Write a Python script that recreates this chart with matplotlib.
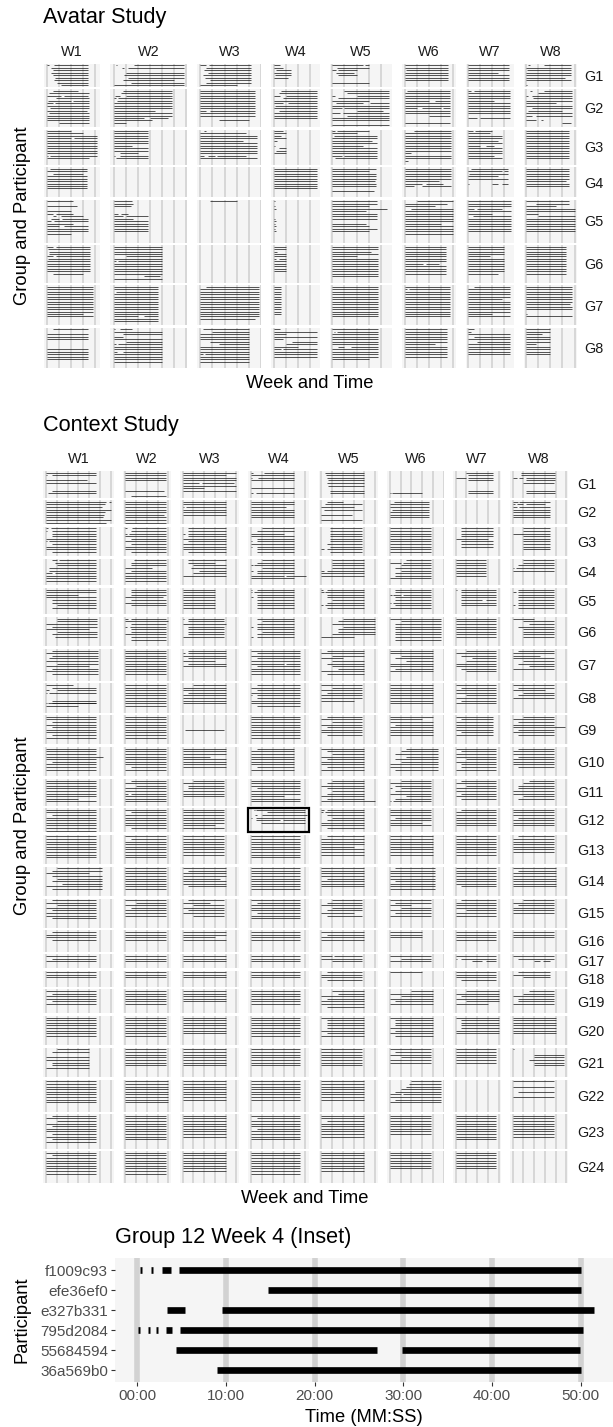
import matplotlib
matplotlib.use("Agg")
import matplotlib.pyplot as plt
from matplotlib.patches import Rectangle

plt.rcParams["font.family"] = ["Liberation Sans", "DejaVu Sans"]

WEEKS = ["W1", "W2", "W3", "W4", "W5", "W6", "W7", "W8"]

# Session logs, one string per group and week.
# "E:" gives the default end minute of the week's session, then one token per
# participant: "." = absent, "a" = online from a to E, "a-b" = from a to b,
# several stretches joined with ",".
AVATAR_GROUPS = ["G1", "G2", "G3", "G4", "G5", "G6", "G7", "G8"]
AVATAR_SIZES = [9, 15, 14, 12, 17, 15, 16, 16]
AVATAR_SESSIONS = [
    ["34:0-2,6 4 5 4 5 7 6 9 12", "58:2-3,17 7-9,12 . 10 9 12 8-50 14 0",
     "42:0-5,7 5 3 6 2 4 8 5 0-30", "14:0-5 0-8 2 0 1 0-12 . . .",
     "30:0-25,27 4 0-3,5-20 3-18 5-20 . . 0 .", "36:0 0 1 0 0 0 0 . .",
     "34:0 0 0 0-25 0 0 0 . .", "37:2-3,15 0 1 0 0 0-32 0 . 0-1"],
    ["35:5-26 2 0-12,14-34 8 1-20,22 0-5,7 0 3 0-33 2 0 0 0 10 .",
     "48:8 6 1-5,10 0-2,4 3 0 0 0 0-34 0 0 0-25,30-45 0-32 0-10 .",
     "45:0 0 0 0 0 0 0 0 0-5,8 0 0 . 15-40 . .",
     "36:6 4 0-5,10 8 0 0-8,12 1 0 4 0 0 0 . . .",
     "47:10 12 0-2,20 5 0-30 3-25,31 0 0-8,10 20-42 0-6,9 12 0 0 . 0",
     "37:2 0 0 0 0-20,25 0 0 0-10,14-30,32 0 0 20 . . 0 .",
     "35:0-3,5 0 0 0 0-22 0 0 0 0 0 . 0-8,10 . . .",
     "38:3-5,15 10 0-2,5 6 0 0-25 0 5 2-30 0 0-5,8 . 0-8,12-14 30-37 ."],
    ["42:0-20 0-30 0 0-20,23 0 0 0 0 0 0 0-1,3 0-35 . .",
     "28:0 0 0 0 0 0 0-15 0 0 5-20 0-1,5 2-28 . .",
     "47:3-5 0-38 0 0 0-35 0 0 0 0 0 0-3,6-12,14-38 0 . .",
     "10:0-8 0 0-6 0 0-3 . 0-1 4 2 0 . . . .",
     "37:0-2,4-30 0-20 1 0 0-33 0 0-25 0 0 0 0-8,10 2 . .",
     "38:8 0 0 0 0 0 0 0 0 0-5 0 0 0-3 .",
     "28:0-4,6-20 0-18 0 0 0-25 0 0-10,15-22 0 0 0 0-22 0 . .",
     "35:0 0 0 0 0 0 0 0 0 0 0 0 . ."],
    ["33:3 0 5-30 0 0 0 0 0 0 . . .", "0:", "0:",
     "36:0 0 0 0 0 0 0 0 0 . . .",
     "36:0 0-30 0 0 0 0-35 0 0 . 0-34 .",
     "38:0 0 0 0 0 0-28 0-14,18-32 0-8,14 . . .",
     "33:3 0-28,30 1 0-25 0 . 0-1,20-25,28 . . . . .",
     "35:0 0 0 0 0 0-33 0 0 . . . ."],
    ["34:0-22 . 0-25 . 0-20 0-5,8-22 5-8,12-30 4-10,13 0-4,6 0-22 0-10,14 0 0 0-20 . . .",
     "28:0-15 0-16 0-14 . . 0-4,6-12 0-8,10 0-16 0 0 0 0 0 . . . .",
     "28:8-30 . . . . . . . . . . . . . . . .",
     "6:0-1 . 0-1 0-2 . . . 0-1 0-2 0-1 0-2 0-1 0-2 . . . .",
     "37:0 0 0-30 0-45 0-28 0 0 0 . 0-28 0-30 0 0-30 . . . .",
     "40:10 0-35 0-25 5 0 0 0 0 0 0-30 0 0 0 0 . . .",
     "36:0 0 0 0-5,8-28 0 0-20 4 0 0 0 0 0 0 . . . .",
     "40:0-35 8-35 0-25 0 0 0-10 10 0-40 0 0 0 0 0 . . . ."],
    ["36:0-5,8 1 2 2 0-5,8 1 0 0 0 0 0 5-30 . . .",
     "40:0 0 0 0 10 0 0-2,4 0 0 0 0 0 25-38 0 .",
     "0:",
     "10:0 0 0-3 0 0 0-2,4 0 0 0 0 0 . . .",
     "38:0 0 0-32 0 0-20 0 0 0 0 0 0 0 0 . .",
     "34:0 0 0 0 0 0 0 0-15,18-28 0 0 0 0 . . .",
     "30:0 0 0 0 0-18 0 0 0 0 0 0 0-25 . . .",
     "33:0 0 0 0 0 0 0 0 0 0 0 0 . . ."],
    ["38:0 0 0 0 0 0 0 0 0 0 0 0-30 0 . . .",
     "37:0 0 2 0 0 0 0 0 0 0 0 0 0-20,25 0 0 .",
     "48:5 0 0 0 0 0 0 0 0 0 0 0 0 0-45 . .",
     "6:0 0 0 0 0 0 0 0 0 0 0 0 . . . .",
     "38:0 0 0 0 0 0 0 0 0 0 0 0 0 . . .",
     "37:0 0-2,4 0 0 0 0 0 0 0 0 0 0 0 . . .",
     "35:5 0 0 0 0 0-28 0 0 0 0 0 0-20 0 . . .",
     "38:0 0 0 0 0 0 0 0-36 0 0 . 0-1 0 . . ."],
    ["34:5 . 0 0 0 . . . 0 0 0 0 0 . . .",
     "40:0-1,5-15 0 8 0-8 0 10 0-2,4 0 0 0-3,8 0 0 0 0 . .",
     "40:2 10 0 0 0 8 15 0 0 0 0-2,4 0 0 0 . .",
     "36:0-5 0 0-10 0 0-8 15 10 0-20 0-6,8 0 0 0 . . .",
     "38:0 1-2,4 0 0 0 0 0 5-10,15 0 0 0 0 0-30 . . .",
     "35:0 0 0 0 0 0 0-25 0 0 0 0 0 . . . .",
     "35:0-5 0-3 0 5 0 8 0 0 0 0 0 . . . . .",
     "20:0 0 0-13 0 0 0 0-8 0 0 0 0 . . . ."],
]

CONTEXT_GROUPS = ["G%d" % i for i in range(1, 25)]
CONTEXT_SIZES = [10, 9, 11, 10, 10, 11, 12, 11, 11, 11, 10, 9,
                 11, 11, 11, 8, 5, 6, 9, 11, 11, 12, 13, 12]
CONTEXT_SESSIONS = [
    ["46:0 0-1,5 . 0-38 0 . . 5 2 .", "38:0 0 0 0 . . . 0-36 . 5",
     "50:0 0-40 0 0 0-15,18-48 0 0-20 0 . .", "40:0-2,12 0 0-1,6 0 . . 0 . 0-2,4 .",
     "40:3 4 5 6 5 6 . 8 8 .", "30:. . . . . . . . 0-1,2 .",
     "35:10 12 0-10,12 12 . . . 12 12 .", "39:8 8 0-4,6-10,12 12 10-38 . . 12 12 ."],
    ["60:0-56,58 0-55 0-52 0 0-55 0-54 0-53 0 0-56", "38:0 0 0 0 0 0-36 0 0 0",
     "40:0 0 0-1,3 0 0 0 . . .", "40:0 0 0-32 0 0 0 0 . .",
     "38:5-20 3 0-30 2 . 0-28 . 0 .", "36:4 0 0 2 0 0 0 . .",
     "0:", "35:0-5,6 0-2,4-10,12-30 0-4,6 0 0 0 0 . ."],
    ["46:0-2,4 0-1,5 5 5 0 0-1,3 5 0 0 5 .", "38:0-1,6 5 0-1,3 0 5 0 5 0 0 5 .",
     "40:5 5 0-2,5 5 0 5 0 0 0 5 .", "40:10 5 0-30 0 5 0-1,5 0 0-1,5 5 5 .",
     "38:8 8 8 8 8 8 5 8 0-2,5 8 .", "38:0 0 0 0 0 0 0 0 0 0 .",
     "35:5 5 5 5 0-30 5 5 5 . . .", "35:10 10 0 10 10 10 10 10 10 . ."],
    ["46:5-10,12 8 10 3 3 0-5,8 0 0 0 .", "38:8 5 5 0-25 5 0 0 0 0 .",
     "40:5 5-30 10 8 15 10 0-40 . . .", "40:10 5 0-2,3 10 0-2,5 5 0-30,32-51 0 . .",
     "40:10 10 10 10 0-2,5 0-40 0 . . .", "38:15 0-10,12 10 5 10 5 5 0 . .",
     "28:0 0 0 0 0 0 0 . . .", "38:10 10 5 0-1,3 0-38 . . . . ."],
    ["46:0 0 0-30 0 5 5 10 5 . .", "38:5 5 5 0-35 5 0 5 . . .",
     "30:0 0 0 0 0 0 0 0 . .", "40:0-1,5 0-1,3 5 0-2,5 5 5 5 5 . .",
     "40:0-1,5 0-2,3 5 5 10 5 0-1,3 5 . .", "38:5 5 0-2,3-10,12 5 5 0-1,3 5 0 . .",
     "38:0-1,5 5 5 5 5-25,28 5 5 . . .", "38:5 0-3,5 5 5 5 5 0-2,5 5 . ."],
    ["47:10 10 0 5 0-40 10 5 8 . . .", "38:0-2,5 0-40 5 0-1,4 5 5 0 5 5 . .",
     "38:0-1,5 5 0-40 5 5 5 5 0 . . .", "40:5 10 5 0-2,5 5 10 5 0-2,5 . . .",
     "50:20 15 10 20 15 15 10 0-30 . . .", "48:0 10 5 5 5 5 5 5 5 . .",
     "38:0 0 0 0 0 0 0 0 . . .", "38:0-20 10 15 5 10 10 10 10 . . ."],
    ["48:5 0 5 3 0 10 0-40 5 0 5 . .", "38:0 0 0 0 0 0 0 0 0 0 . .",
     "40:5 0-2,5 0 5 0-30 5 0 . . . . .", "45:0 5 0 5 0 0-30,32 5 0 0 0 . .",
     "40:5 0 10 0-20 10 5 10 15 0 5 . .", "40:0 0 10 5 15 0 0 5 0 . . .",
     "38:10 0 5 15 10 0 0 5 10 . . .", "38:5 0 0-25 0 10 5 15 0 . . . ."],
    ["46:0-25 5 0-3,10 0-1,3 . . 5 0-1,2,5 0-30 . .", "38:0 0 0 0 0 0 0 0 0 . .",
     "40:10 0 0 5 0 0 0 0 . . .", "45:5 0 5 0 0-1,5 5 0 0 5 . .",
     "38:0 10 0 5 0 0 0-30 . . . .", "40:0 0 0 0 0 0 0 0 . . .",
     "38:0 5 0 0 10 0 5 0 . . .", "38:0 5 0-30 10 5 0 . . . . ."],
    ["46:0 0 5 0 5 0 0 5 0 . .", "38:0 0 0 0 0 0 0 0 0 . .",
     "0:. . . . . 2-38 . . . . .", "45:0 0 0 0 0 0 0 0 0 . .",
     "38:5 0 10 0 5 0 0 5 . . .", "40:0 0-30 0 5 0 0 0 0 . . .",
     "35:0 5 0 0 0 0 5 0 . . .", "38:10 0 5 0 0-49 5 0 5 . . ."],
    ["46:0 0 0 0-53 0 5 0 0 0 . .", "38:0 0 0 0 0 0 0 5 0 . .",
     "40:0 0 0 0-25 0 0 0 0 . . .", "40:5 0 0 0 0 0 0 5 0 . .",
     "40:0 5 10 0 5 0 0 5 0 . .", "45:15 10 5 15 5 10 0 0 5 . .",
     "38:0 5 0 0 10 0 5 5 0 . .", "38:5 0 0 5 0 0 0 5 . . ."],
    ["46:0 0 0 0 0 0 0 0-30 0 .", "38:5 0 10 0 0 0-2,5 0 0 0 .",
     "38:10 0 5 5 0 0 0 . . .", "45:0 0 0 5 0 0 0-30 0 0 .",
     "40:10 5 0 5 10 5 0 5 0-50 .", "38:10 0 5 0-2,10 5 0 15 5 0-1,3 .",
     "38:5 0 10 0 0 5 0 5 . .", "38:15 10 5 5 0 0 10 5 . ."],
    ["46:0 0 5 0 0 0 0 0 0", "38:0 5 0 0 0 0 0 5 .",
     "38:0 0 0 0 0 0 0-30 0 .", None,
     "40:0-2,5 0-1,3 5 10 5 0 0 5 .", "38:0 0 0 5 0 0-30 0 .",
     "38:5 0 0 0 0 0 0 . .", "38:0 0 0 5 0 0 0 . ."],
    ["46:0 0 0 0 0 0 0 0 0 . .", "38:0 5 0 0 0 0 0 0 0 . .",
     "38:0 0 0 0 0 0 0 0 . . .", "45:0 0 0 0 0 0 0 0 0 . .",
     "40:5 0 0 0 0-30 0 0 0 . . .", "40:0 0 0 0 0 0 0 0 . . .",
     "38:0 0 0 0 0 0 0 0 . . .", "38:5 0 0 0 0 0 0 . . . ."],
    ["52:10 5 0-40 5 10 5 15 0 5 . .", "38:0 0 0 0 0 0 0 0 0 . .",
     "40:0 5 0 0 0-35 0 0 5 . . .", "45:0 0 0 0 0 0 0 0 0 . .",
     "40:0 0 0 0 5 0 0 0 . . .", "42:5 0 0 0 0 5 0 0 0 . .",
     "38:0 0 0 0 0 0 0 5 . . .", "40:0 5 0 0 0 0 0 0 . . ."],
    ["46:5 0 10 0 5 0 0 5 . . .", "38:0 10 0 5 0 0 0 . . . .",
     "38:5 0-25 10 0 5 0 10 . . . .", "45:0 5 0 0 0 5 0 0 . . .",
     "38:10 5 0 10 5 0-30 5 . . . .", "38:0 5 0-20 10 0 5 0 . . . .",
     "38:5 0 0 0 10 0 0 . . . .", "38:10 0 5 0 0 0 . . . . ."],
    ["46:5 0 0 5 . . . .", "38:0 0 0 0 . . . .", "40:0 0 0-30 0 . . . .",
     "45:0 0 0 0 . . . .", "40:0 5 0 0 . . . .", "30:0 0 0 . . . . .",
     "38:0 0 0 0 . . . .", "38:0 0 0 . . . . ."],
    ["46:0 5 0 . .", "38:0 0 0 . .", "40:0 0 0 . .", "45:0 0 0 . .",
     "38:0-10,12 0 10 . .", "38:0 10 0 . .", "38:0 0-1,5 15-25,28 . .",
     "38:0 5 20-25,28-35 . ."],
    ["46:0 0 0 . . .", "38:0 0 0 . . .", "40:0 0 0 . . .", "45:0 0 0 . . .",
     "38:5 0 0 5 . .", "38:0-30 . . . . .", "38:0 0 0 5 . .", "35:5 0 10 . . ."],
    ["46:0 5 0 0 5 0 . . .", "38:0 0 0 0 0 0 . . .", "40:0 0 0 0 0 . . . .",
     "45:0 0 0 0 0 0 . . .", "40:10 15 0 5 0 0 5 . .", "40:20 0 10 0 5 0 . . .",
     "40:10 0 5 0 10 0-30 . . .", "38:15 10 0 5 5 0 . . ."],
    ["46:0 0 0 0 0 0 0 0 . . .", "38:0 0 0 0 0 0 0 0 . . .",
     "40:0 0 0 0 0 0 0 . . . .", "45:0 0 0 0 0 0 0 0 . . .",
     "40:0 5 5 5 5 0 5 0 . . .", "40:0 5 5 5 0 5 0 5 . . .",
     "40:0 5 5 5 5 0 0 . . . .", "40:0 0 0 0 0 0 0 . . . ."],
    ["40:10 5 . 0 0 5 5 0 . . .", "38:0 0 0 0 0 0 0 . . . .",
     "40:0 0 0 0 0 0 0 . . . .", "45:0 0 0 0 0 0 0 . . . .",
     "38:0 0 0 0 0 0 0 . . . .", "38:0 5 0 10 0 0 . . . . .",
     "38:0 0 0 0 0 0 . . . . .", "48:0-1 . 20 20 15 20 20 . . . ."],
    ["46:0 0 0 0 0 0 0 0 0 . . .", "40:0 0 0 0 0 0 0 0 0 . . .",
     "40:0 0 0 0 0 0 0 0 . . . .", "45:0 0 0 0 0 0 0 0 . . . .",
     "40:0 0 0 0 0 0 0 0 . . . .", "48:20 18 15 10 5 0-10,12 0 5 0 . . .",
     "0:", "38:0 . 0 . 5 . 0 . . . . ."],
    ["46:5 0 10 0 5 0 0 5 0 5 0 . .", "38:0 0 0 0 0 0 0 0 0 0 . . .",
     "40:0 0 0 0 0 0 0 0 0 . . . .", "45:0 5 0 0 0 5 0 0 0 0 . . .",
     "40:0 0 5 0 0 0 0 0 0 . . . .", "38:0 0 0 0 0 0 0 0 . . . . .",
     "38:0 0 0 0 0 0 0 0 0 0 . . .", "38:0 0 0 0 0 0 0 0 0 . . . ."],
    ["46:0 5 0 0 0 0 0 0 0 . . .", "38:0 0 0 0 0 0 0 0 0 . . .",
     "40:0 0 0 0 0 0 0 0 . . . .", "45:0 0 0 0 0 0 0 0 0 . . .",
     "40:0 0 0 0 0 0 0 0 . . . .", "38:0 0 0 0 0 0 0 . . . . .",
     "38:0 0 0 0 0 0 0 . . . . .", "0:"],
]

# Group 12, week 4 in detail (minutes)
INSET_PARTICIPANTS = ["f1009c93", "efe36ef0", "e327b331",
                      "795d2084", "55684594", "36a569b0"]
INSET_SESSIONS = [
    [(0.3, 0.6), (1.6, 1.8), (2.8, 3.8), (4.7, 50.0)],
    [(14.8, 50.0)],
    [(3.4, 5.4), (9.6, 51.5)],
    [(0.05, 0.3), (1.2, 1.4), (2.1, 2.3), (3.2, 3.9), (4.8, 50.3)],
    [(4.4, 27.0), (29.8, 49.9)],
    [(9.0, 50.0)],
]
INSET_TICKS = [0, 10, 20, 30, 40, 50]
INSET_GROUP, INSET_WEEK = 11, 3

W, H, DPI = 613, 1427, 100
PANEL_BG = "#f5f5f5"
GRID = "#d2d2d2"
INK = "#111111"
fig = plt.figure(figsize=(W / DPI, H / DPI), dpi=DPI)


def ax_at(x0, y0, x1, y1):
    return fig.add_axes([x0 / W, 1 - y1 / H, (x1 - x0) / W, (y1 - y0) / H])


def text_at(x, y, s, **kw):
    fig.text(x / W, 1 - y / H, s, **kw)


def parse_cell(text):
    segs = []
    if not text:
        return segs
    head, body = text.split(":")
    end = float(head)
    for i, tok in enumerate(body.split()):
        if tok == ".":
            continue
        for part in tok.split(","):
            if "-" in part:
                a, b = part.split("-")
                segs.append((i, float(a), float(b)))
            else:
                segs.append((i, float(part), end))
    return segs


def inset_segments():
    return [(i, a, b) for i, row in enumerate(INSET_SESSIONS) for a, b in row]


def draw_study(groups, sizes, sessions, box, hgap, vgap, glabel_x,
               strip_base, highlight=None):
    left, top, right, bottom = box
    cells = []
    for g in range(len(groups)):
        row = []
        for w in range(len(WEEKS)):
            if highlight == (g, w):
                row.append(inset_segments())
            else:
                row.append(parse_cell(sessions[g][w]))
        cells.append(row)
    lims = []
    for w in range(len(WEEKS)):
        xs = [v for g in range(len(groups)) for s in cells[g][w] for v in s[1:]]
        lo, hi = min(xs), max(xs)
        pad = 0.05 * (hi - lo)
        lims.append((lo - pad, hi + pad))
    spans = [b - a for a, b in lims]
    px_min = (right - left - (len(WEEKS) - 1) * hgap) / sum(spans)
    units = [n + 0.2 for n in sizes]
    px_unit = (bottom - top - (len(groups) - 1) * vgap) / sum(units)

    y = top
    for g, name in enumerate(groups):
        h = units[g] * px_unit
        x = left
        for w in range(len(WEEKS)):
            wpx = spans[w] * px_min
            ax = ax_at(x, y, x + wpx, y + h)
            ax.set_facecolor(PANEL_BG)
            ax.set_xlim(*lims[w])
            ax.set_ylim(sizes[g] - 0.4, -0.6)
            t = 0
            while t <= lims[w][1]:
                if t >= lims[w][0]:
                    ax.axvline(t, color=GRID, lw=1.2, zorder=0)
                t += 10
            segs = [s for s in cells[g][w] if s[0] < sizes[g]]
            if segs:
                ax.hlines([s[0] for s in segs], [s[1] for s in segs],
                          [s[2] for s in segs], color=INK, lw=0.5)
            ax.set_xticks([])
            ax.set_yticks([])
            for sp in ax.spines.values():
                sp.set_visible(False)
            if highlight == (g, w):
                ax.add_patch(Rectangle((0, 0), 1, 1, transform=ax.transAxes,
                                       fill=False, ec="black", lw=1.6,
                                       clip_on=False, zorder=5))
            if g == 0:
                text_at(x + wpx / 2, strip_base, WEEKS[w], ha="center",
                        va="baseline", fontsize=10.4, color="#1a1a1a")
            x += wpx + hgap
        text_at(glabel_x, y + h / 2 + 5.2, name, ha="left", va="baseline",
                fontsize=10.4, color="#1a1a1a")
        y += h + vgap


# Avatar study
text_at(43, 23.5, "Avatar Study", fontsize=15.6, ha="left", va="baseline")
draw_study(AVATAR_GROUPS, AVATAR_SIZES, AVATAR_SESSIONS,
           (44, 64, 577, 368), 10, 2.6, 584, 56.5)
text_at(310, 388, "Week and Time", fontsize=13.2, ha="center", va="baseline")
text_at(23, 216, "Group and Participant", fontsize=13.2, ha="center",
        va="center", rotation=90)

# Context study
text_at(43, 430.5, "Context Study", fontsize=15.6, ha="left", va="baseline")
draw_study(CONTEXT_GROUPS, CONTEXT_SIZES, CONTEXT_SESSIONS,
           (43, 471, 568, 1183), 9.4, 2.7, 577, 463,
           highlight=(INSET_GROUP, INSET_WEEK))
text_at(305, 1203, "Week and Time", fontsize=13.2, ha="center", va="baseline")
text_at(23, 826, "Group and Participant", fontsize=13.2, ha="center",
        va="center", rotation=90)

# Inset: group 12, week 4
segs = inset_segments()
lo = min(s[1] for s in segs)
hi = max(s[2] for s in segs)
pad = 0.05 * (hi - lo)
px_per_min = 8.87
iax = ax_at(114.8, 1258, 114.8 + (hi - lo + 2 * pad) * px_per_min, 1382)
iax.set_facecolor(PANEL_BG)
iax.set_xlim(lo - pad, hi + pad)
n = len(INSET_PARTICIPANTS)
iax.set_ylim(n - 0.4, -0.6)
for t in INSET_TICKS:
    iax.axvline(t, color="#d2d2d2", lw=4.0, zorder=0)
iax.hlines([s[0] for s in segs], [s[1] for s in segs], [s[2] for s in segs],
           color="black", lw=4.8, zorder=2)
iax.set_xticks(INSET_TICKS)
iax.set_xticklabels(["%02d:00" % t for t in INSET_TICKS])
iax.set_yticks(range(n))
iax.set_yticklabels(INSET_PARTICIPANTS)
iax.tick_params(axis="both", length=2.7, width=0.8, color="#333333",
                labelcolor="#4d4d4d", labelsize=11, pad=2.2)
for sp in iax.spines.values():
    sp.set_visible(False)
text_at(364, 1422, "Time (MM:SS)", fontsize=13.2, ha="center", va="baseline")
text_at(22, 1320, "Participant", fontsize=13.2, ha="center", va="center",
        rotation=90)
text_at(114.8, 1243, "Group 12 Week 4 (Inset)", fontsize=15.6, ha="left",
        va="baseline")

fig.savefig("out.png", dpi=DPI)
